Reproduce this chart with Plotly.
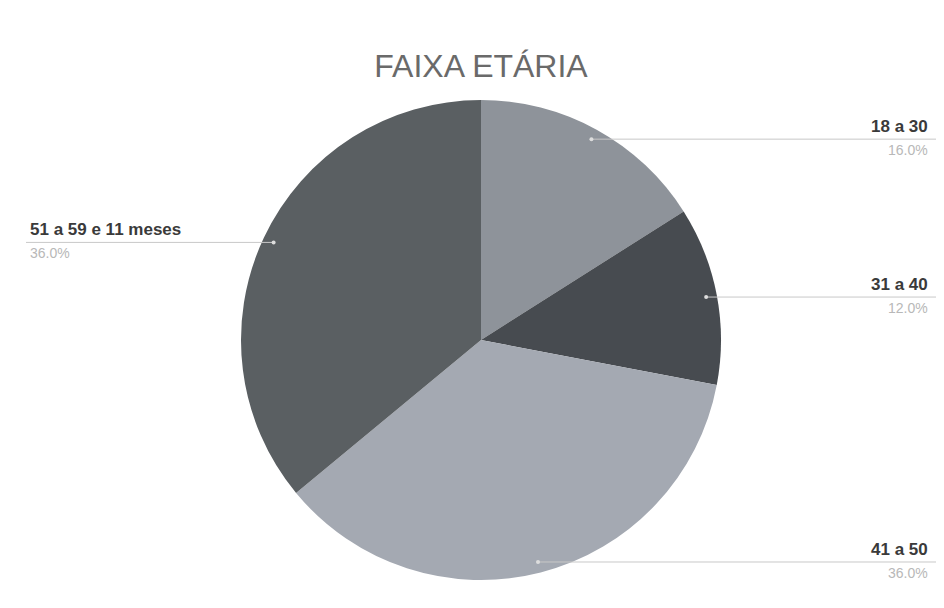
import math
import plotly.graph_objects as go

categories = ["18 a 30", "31 a 40", "41 a 50", "51 a 59 e 11 meses"]
values = [16.0, 12.0, 36.0, 36.0]
pct_labels = ["16.0%", "12.0%", "36.0%", "36.0%"]
colors = ["#8e939a", "#474b50", "#a4a9b2", "#5a5f62"]

W, H = 944, 608
OFF = 8  # page offset compensation
cx, cy, R = 481 - OFF, 340 - OFF, 240  # pie centre / radius in pixels

fig = go.Figure(go.Pie(
    labels=categories, values=values, sort=False, direction="clockwise",
    rotation=0, marker=dict(colors=colors, line=dict(width=0)),
    textinfo="none", hoverinfo="label+percent", showlegend=False,
    domain=dict(x=[(cx - R) / W, (cx + R) / W], y=[(H - cy - R) / H, (H - cy + R) / H]),
))

shapes, annotations = [], []
total = sum(values)
cum = 0.0
for cat, v, p in zip(categories, values, pct_labels):
    mid = (cum + v / 2) / total * 2 * math.pi
    cum += v
    px = cx + 0.955 * R * math.sin(mid)
    py = cy - 0.955 * R * math.cos(mid)
    right = math.sin(mid) >= 0
    x_end = (937 if right else 26) - OFF
    shapes.append(dict(type="line", xref="paper", yref="paper",
                       x0=px / W, x1=x_end / W, y0=1 - py / H, y1=1 - py / H,
                       line=dict(color="#c8c8c8", width=1)))
    shapes.append(dict(type="circle", xref="paper", yref="paper",
                       x0=(px - 2) / W, x1=(px + 2) / W, y0=1 - (py - 2) / H, y1=1 - (py + 2) / H,
                       fillcolor="#dddddd", line=dict(width=0)))
    tx = ((930 if right else 28) - OFF) / W
    anchor = "right" if right else "left"
    annotations.append(dict(x=tx, y=1 - (py - 1) / H, xref="paper", yref="paper",
                            text="<b>" + cat + "</b>", showarrow=False, xanchor=anchor, yanchor="bottom",
                            font=dict(family="Liberation Sans", size=17, color="#3a3a3a")))
    annotations.append(dict(x=tx, y=1 - (py + 1) / H, xref="paper", yref="paper",
                            text=p, showarrow=False, xanchor=anchor, yanchor="top",
                            font=dict(family="Liberation Sans", size=14, color="#b8b8b8")))

fig.update_layout(
    width=W, height=H, margin=dict(l=0, r=0, t=0, b=0),
    paper_bgcolor="white", plot_bgcolor="white",
    title=dict(text="FAIXA ETÁRIA", x=cx / W, xanchor="center", y=1 - (66 - OFF) / H, yanchor="middle",
               font=dict(family="Liberation Sans", size=32, color="#6a6a6a")),
    shapes=shapes, annotations=annotations,
)

fig.write_html("out.html")
